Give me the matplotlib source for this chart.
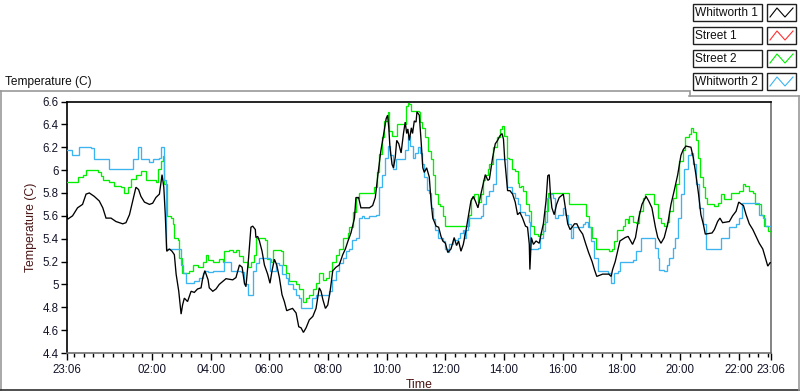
import matplotlib
matplotlib.use("Agg")
import matplotlib.pyplot as plt
from matplotlib.lines import Line2D
from matplotlib.patches import Rectangle

# ---------------- data (elapsed hours since 23:06, temperature in C) -------------
series_names = ["Whitworth 1", "Street 1", "Street 2", "Whitworth 2"]
series_colors = ["#000000", "#ff3030", "#00ee00", "#3cb4f0"]

whitworth1_hours = [0.00, 0.02, 0.19, 0.36, 0.53, 0.65, 0.76, 0.93, 1.10, 1.22, 1.33, 1.50, 1.67, 1.90, 2.01,
    2.13, 2.24, 2.35, 2.44, 2.52, 2.64, 2.81, 2.92, 3.03, 3.15, 3.24, 3.30, 3.35, 3.40, 3.49, 3.58, 3.66,
    3.72, 3.81, 3.89, 3.94, 4.00, 4.11, 4.23, 4.34, 4.45, 4.57, 4.63, 4.70, 4.81, 4.85, 4.97, 5.08, 5.19,
    5.42, 5.65, 5.76, 5.88, 5.97, 6.05, 6.10, 6.19, 6.27, 6.33, 6.42, 6.44, 6.50, 6.56, 6.65, 6.73, 6.84,
    6.92, 6.99, 7.07, 7.15, 7.24, 7.33, 7.41, 7.49, 7.58, 7.69, 7.81, 7.90, 7.98, 8.06, 8.15, 8.26, 8.38,
    8.49, 8.60, 8.66, 8.72, 8.81, 8.89, 8.97, 9.06, 9.17, 9.28, 9.40, 9.49, 9.58, 9.68, 9.80, 9.85, 9.94,
    10.02, 10.31, 10.42, 10.51, 10.59, 10.70, 10.78, 10.88, 10.93, 10.97, 11.01, 11.08, 11.13, 11.19,
    11.24, 11.31, 11.39, 11.47, 11.53, 11.58, 11.62, 11.67, 11.74, 11.78, 11.84, 11.90, 11.93, 12.01,
    12.07, 12.13, 12.18, 12.26, 12.35, 12.41, 12.47, 12.52, 12.58, 12.67, 12.75, 12.81, 12.90, 12.98,
    13.09, 13.20, 13.28, 13.35, 13.43, 13.51, 13.60, 13.69, 13.77, 13.85, 13.92, 14.01, 14.11, 14.19,
    14.26, 14.35, 14.40, 14.51, 14.60, 14.68, 14.76, 14.83, 14.88, 14.92, 14.97, 15.02, 15.10, 15.19,
    15.28, 15.36, 15.44, 15.53, 15.63, 15.70, 15.76, 15.78, 15.83, 15.90, 15.99, 16.10, 16.16, 16.24,
    16.33, 16.39, 16.44, 16.48, 16.53, 16.61, 16.69, 16.78, 16.92, 16.99, 17.07, 17.15, 17.22, 17.30,
    17.38, 17.47, 17.58, 17.69, 17.78, 17.90, 17.98, 18.06, 18.26, 18.47, 18.55, 18.60, 18.69, 18.77,
    18.85, 19.03, 19.13, 19.28, 19.38, 19.49, 19.60, 19.74, 19.83, 19.94, 20.06, 20.14, 20.25, 20.36,
    20.48, 20.59, 20.70, 20.82, 20.93, 21.01, 21.10, 21.27, 21.35, 21.44, 21.53, 21.61, 21.69, 21.76,
    21.99, 22.07, 22.18, 22.26, 22.35, 22.58, 22.69, 22.81, 22.90, 23.06, 23.15, 23.26, 23.38, 23.49,
    23.60, 23.72, 23.81, 23.89, 23.97, 24.00]
whitworth1_temp = [5.61, 5.57, 5.60, 5.67, 5.70, 5.79, 5.80, 5.77, 5.73, 5.67, 5.58, 5.58, 5.55, 5.53, 5.54,
    5.61, 5.73, 5.85, 5.83, 5.77, 5.72, 5.70, 5.71, 5.76, 5.79, 5.96, 5.85, 5.61, 5.29, 5.31, 5.29, 5.26,
    5.09, 4.94, 4.74, 4.82, 4.88, 4.85, 4.94, 4.93, 4.96, 4.97, 5.06, 5.12, 5.04, 4.97, 4.94, 4.96, 5.00,
    5.05, 5.04, 5.06, 5.17, 5.15, 5.01, 4.98, 5.23, 5.50, 5.51, 5.48, 5.41, 5.42, 5.38, 5.29, 5.17, 5.09,
    5.01, 5.12, 5.22, 5.17, 5.06, 4.91, 4.85, 4.77, 4.78, 4.79, 4.75, 4.63, 4.62, 4.58, 4.62, 4.69, 4.72,
    4.79, 4.97, 4.94, 4.87, 4.79, 4.82, 4.94, 5.12, 5.15, 5.17, 5.26, 5.31, 5.38, 5.45, 5.58, 5.76, 5.76,
    5.67, 5.67, 5.69, 5.76, 5.94, 6.17, 6.29, 6.45, 6.48, 6.37, 6.20, 6.05, 6.02, 6.11,
    6.26, 6.23, 6.15, 6.32, 6.42, 6.32, 6.36, 6.26, 6.37, 6.32, 6.43, 6.42, 6.51, 6.48,
    6.26, 6.02, 5.98, 6.02, 5.94, 5.73, 5.58, 5.55, 5.51, 5.50, 5.42, 5.38, 5.36, 5.28,
    5.31, 5.41, 5.34, 5.38, 5.29, 5.35, 5.47, 5.61, 5.73, 5.77, 5.73, 5.67, 5.79, 5.88,
    5.96, 5.91, 5.92, 6.11, 6.23, 6.26, 6.30, 6.32, 6.27, 6.10, 5.96, 5.82, 5.82, 5.79,
    5.72, 5.61, 5.63, 5.58, 5.51, 5.50, 5.35, 5.13, 5.41, 5.35, 5.38, 5.36, 5.44, 5.53,
    5.73, 5.95, 5.96, 5.79, 5.67, 5.61, 5.70, 5.76, 5.79, 5.67, 5.53, 5.48, 5.50, 5.53,
    5.53, 5.48, 5.44, 5.35, 5.28, 5.20, 5.13, 5.07, 5.09, 5.09, 5.07, 5.13, 5.20, 5.29,
    5.38, 5.41, 5.42, 5.35, 5.41, 5.58, 5.70, 5.77, 5.73, 5.67, 5.50, 5.41, 5.36, 5.41,
    5.53, 5.70, 5.82, 5.96, 6.13, 6.18, 6.21, 6.20, 6.11, 5.96, 5.79, 5.61, 5.53, 5.44,
    5.45, 5.48, 5.55, 5.58, 5.54, 5.55, 5.60, 5.64, 5.72, 5.69, 5.61, 5.53, 5.48, 5.42,
    5.36, 5.31, 5.23, 5.16, 5.19, 5.19]

street1_hours = []
street1_temp = []

street2_hours = [0.00, 0.25, 0.36, 0.53, 0.65, 0.88, 1.05, 1.16, 1.22, 1.44, 1.61, 1.84, 1.95, 2.07, 2.18,
    2.35, 2.52, 2.69, 3.03, 3.09, 3.20, 3.26, 3.32, 3.41, 3.55, 3.60, 3.66, 3.77, 3.83, 3.92, 4.17, 4.28,
    4.45, 4.63, 4.74, 4.80, 4.97, 5.19, 5.31, 5.36, 5.53, 5.65, 5.76, 5.88, 5.99, 6.16, 6.27, 6.39, 6.44,
    6.76, 6.81, 6.95, 7.03, 7.30, 7.38, 7.47, 7.58, 7.81, 7.92, 8.03, 8.15, 8.26, 8.38, 8.49, 8.60, 8.72,
    8.83, 8.94, 9.03, 9.17, 9.28, 9.40, 9.58, 9.63, 9.74, 9.85, 9.94, 10.42, 10.48, 10.56, 10.65, 10.74,
    10.82, 10.94, 10.99, 11.08, 11.19, 11.24, 11.47, 11.56, 11.61, 11.67, 11.74, 11.92, 11.99, 12.03,
    12.10, 12.19, 12.30, 12.41, 12.47, 12.56, 12.64, 12.72, 12.81, 12.90, 13.60, 13.69, 13.77, 13.89,
    14.00, 14.11, 14.19, 14.26, 14.35, 14.40, 14.53, 14.65, 14.76, 14.83, 14.91, 14.99, 15.08, 15.17,
    15.28, 15.36, 15.42, 15.49, 15.56, 15.65, 15.74, 15.82, 15.93, 16.05, 16.14, 16.22, 16.31, 16.39,
    17.03, 17.10, 17.64, 17.69, 17.78, 17.90, 18.03, 18.38, 18.47, 18.58, 18.66, 18.74, 18.94, 19.03,
    19.13, 19.17, 19.28, 19.40, 19.51, 19.63, 19.72, 19.91, 20.02, 20.14, 20.25, 20.36, 20.44, 20.53,
    20.65, 20.76, 20.88, 20.99, 21.08, 21.19, 21.27, 21.35, 21.44, 21.50, 21.58, 21.67, 21.76, 21.81,
    22.07, 22.18, 22.30, 22.41, 22.52, 22.64, 22.92, 23.03, 23.13, 23.24, 23.38, 23.47, 23.58, 23.66,
    23.77, 23.89, 24.00]
street2_temp = [5.90, 5.90, 5.94, 5.96, 6.00, 6.00, 5.98, 5.95, 5.91, 5.90, 5.86, 5.85, 5.80, 5.85, 5.92,
    5.96, 5.99, 5.91, 5.90, 6.01, 6.08, 6.12, 5.88, 5.60, 5.58, 5.53, 5.41, 5.39, 5.23, 5.10, 5.12, 5.17,
    5.15, 5.20, 5.26, 5.21, 5.20, 5.22, 5.20, 5.29, 5.30, 5.28, 5.30, 5.25, 5.20, 5.15, 5.20, 5.26, 5.41,
    5.39, 5.22, 5.20, 5.30, 5.29, 5.17, 5.10, 5.03, 5.00, 4.96, 4.85, 4.88, 4.91, 4.96, 5.01, 5.10, 5.04,
    5.06, 5.12, 5.20, 5.26, 5.31, 5.41, 5.45, 5.50, 5.63, 5.76, 5.80, 5.80, 5.85, 5.98, 6.14, 6.29,
    6.43, 6.51, 6.34, 6.30, 6.30, 6.40, 6.40, 6.56, 6.59, 6.58, 6.52, 6.52, 6.51, 6.42,
    6.37, 6.29, 6.17, 6.10, 5.96, 5.79, 5.70, 5.69, 5.60, 5.51, 5.51, 5.61, 5.76, 5.79,
    5.72, 5.79, 5.91, 5.96, 6.01, 6.05, 6.20, 6.29, 6.36, 6.39, 6.30, 6.11, 6.10, 6.01,
    5.99, 5.89, 5.85, 5.86, 5.82, 5.70, 5.64, 5.51, 5.44, 5.42, 5.44, 5.53, 5.64, 5.80,
    5.80, 5.70, 5.70, 5.60, 5.50, 5.41, 5.31, 5.31, 5.29, 5.31, 5.38, 5.48, 5.51, 5.57,
    5.54, 5.60, 5.55, 5.54, 5.64, 5.76, 5.79, 5.79, 5.70, 5.58, 5.54, 5.51, 5.55, 5.64,
    5.76, 5.88, 6.08, 6.18, 6.29, 6.32, 6.37, 6.33, 6.26, 6.11, 5.94, 5.85, 5.76, 5.70,
    5.69, 5.71, 5.79, 5.75, 5.75, 5.80, 5.82, 5.88, 5.86, 5.82, 5.80, 5.70, 5.70, 5.61,
    5.51, 5.47, 5.42]

whitworth2_hours = [0.00, 0.17, 0.42, 0.82, 0.93, 1.39, 1.44, 2.18, 2.24, 2.41, 2.52, 2.81, 2.92, 3.13,
    3.20, 3.26, 3.32, 3.38, 3.77, 3.89, 3.94, 4.06, 4.28, 4.34, 4.51, 4.63, 4.68, 4.81, 4.97, 5.25, 5.36,
    5.48, 5.59, 5.93, 6.05, 6.16, 6.27, 6.33, 6.44, 6.56, 6.84, 6.92, 7.01, 7.13, 7.24, 7.33, 7.47, 7.52,
    7.69, 7.81, 7.92, 7.98, 8.26, 8.35, 8.49, 8.77, 8.94, 9.03, 9.17, 9.28, 9.40, 9.51, 9.63, 9.72, 9.85,
    9.94, 10.06, 10.14, 10.31, 10.53, 10.63, 10.74, 10.85, 10.93, 11.01, 11.10, 11.22, 11.44, 11.53,
    11.61, 11.69, 11.78, 11.88, 11.95, 12.03, 12.10, 12.18, 12.26, 12.33, 12.41, 12.49, 12.56, 12.64,
    12.81, 12.90, 12.98, 13.03, 13.15, 13.32, 13.40, 13.49, 13.55, 13.60, 13.66, 14.11, 14.19, 14.28,
    14.40, 14.51, 14.63, 14.91, 14.99, 15.17, 15.28, 15.36, 15.44, 15.63, 15.74, 15.78, 16.05, 16.13,
    16.22, 16.31, 16.38, 16.44, 16.56, 16.65, 16.73, 16.90, 16.99, 17.07, 17.18, 17.26, 17.58, 17.67,
    17.75, 17.86, 17.98, 18.09, 18.43, 18.55, 18.66, 18.77, 18.85, 19.28, 19.40, 19.57, 19.97, 20.06,
    20.14, 20.19, 20.36, 20.44, 20.53, 20.65, 20.74, 20.82, 20.93, 21.05, 21.16, 21.27, 21.35, 21.44,
    21.56, 21.69, 21.78, 22.24, 22.30, 22.47, 22.58, 22.81, 22.92, 23.01, 23.49, 23.58, 23.72, 23.81,
    24.00]
whitworth2_temp = [6.18, 6.13, 6.20, 6.19, 6.10, 6.10, 6.01, 6.01, 6.10, 6.20, 6.10, 6.07, 6.10, 6.11,
    6.20, 6.20, 5.91, 5.31, 5.31, 5.17, 5.10, 5.01, 5.01, 5.03, 5.06, 5.10, 5.12, 5.11, 5.12, 5.12, 5.20,
    5.20, 5.12, 5.11, 5.00, 4.91, 4.91, 5.12, 5.19, 5.23, 5.23, 5.12, 5.12, 5.19, 5.17, 5.09, 5.06, 5.00,
    4.96, 4.91, 4.88, 4.79, 4.79, 4.88, 4.91, 4.91, 4.94, 5.04, 5.12, 5.19, 5.23, 5.29, 5.31, 5.39, 5.41,
    5.58, 5.60, 5.58, 5.60, 5.61, 5.85, 5.96, 6.11, 6.21, 6.13, 6.01, 6.10, 6.10, 6.18,
    6.30, 6.21, 6.11, 6.15, 6.20, 6.15, 6.05, 5.94, 5.83, 5.80, 5.67, 5.57, 5.48, 5.41,
    5.38, 5.31, 5.28, 5.35, 5.39, 5.41, 5.45, 5.48, 5.41, 5.48, 5.58, 5.60, 5.70, 5.77,
    5.82, 5.88, 6.10, 6.10, 5.85, 5.80, 5.76, 5.70, 5.63, 5.61, 5.55, 5.31, 5.32, 5.41,
    5.47, 5.55, 5.76, 5.79, 5.76, 5.58, 5.61, 5.67, 5.61, 5.53, 5.41, 5.50, 5.53, 5.55,
    5.50, 5.38, 5.23, 5.12, 5.10, 5.01, 5.10, 5.12, 5.20, 5.21, 5.29, 5.41, 5.41, 5.32,
    5.23, 5.13, 5.12, 5.17, 5.23, 5.32, 5.41, 5.58, 5.79, 6.01, 6.13, 6.15, 6.05, 5.88,
    5.67, 5.53, 5.31, 5.31, 5.41, 5.41, 5.50, 5.53, 5.58, 5.71, 5.71, 5.61, 5.58, 5.51,
    5.51]

start_clock = "23:06"
y_ticks = [4.4, 4.6, 4.8, 5.0, 5.2, 5.4, 5.6, 5.8, 6.0, 6.2, 6.4, 6.6]
x_tick_clock = ["02:00", "04:00", "06:00", "08:00", "10:00", "12:00", "14:00",
                "16:00", "18:00", "20:00", "22:00"]
x_label = "Time"
y_label = "Temperature (C)"
caption = "Temperature (C)"

# ---------------- figure ----------------
W, H = 800, 392
fig = plt.figure(figsize=(W / 100, H / 100), dpi=100)
fig.patch.set_facecolor("white")
FONT = "Liberation Sans"


def fx(px):
    return px / W


def fy(py):
    return 1 - py / H


ax = fig.add_axes([fx(67), fy(353), fx(771) - fx(67), fy(101.5) - fy(353)])

all_series = [
    (whitworth1_hours, whitworth1_temp),
    (street1_hours, street1_temp),
    (street2_hours, street2_temp),
    (whitworth2_hours, whitworth2_temp),
]
zorders = [5, 3, 3, 4]
styles = ["default", "steps-post", "steps-post", "steps-post"]
for (hrs, tmp), col, z, ds in zip(all_series, series_colors, zorders, styles):
    ax.plot(hrs, tmp, color=col, lw=0.95, zorder=z, drawstyle=ds, solid_joinstyle="miter")

ax.set_xlim(0, 24)
ax.set_ylim(4.4, 6.6)

# y ticks
ax.set_yticks(y_ticks)
ax.set_yticklabels([("%d" % v) if abs(v - round(v)) < 1e-9 else ("%.1f" % v) for v in y_ticks],
                   fontfamily=FONT, fontsize=8.3, color="#14142a")

# x ticks
sh, sm = [int(s) for s in start_clock.split(":")]
start_h = sh + sm / 60.0


def elapsed(clock):
    h, m = [int(s) for s in clock.split(":")]
    return (h + m / 60.0 - start_h) % 24


major_pos = [0.0] + [elapsed(c) for c in x_tick_clock] + [24.0]
major_lab = [start_clock] + x_tick_clock + [start_clock]
ax.set_xticks(major_pos)
ax.set_xticklabels(major_lab, fontfamily=FONT, fontsize=8.3, color="#14142a")
first_minor = (20 - sm % 20) / 60.0
minor_pos = []
t = first_minor
while t < 24:
    if all(abs(t - m) > 0.05 for m in major_pos):
        minor_pos.append(t)
    t += 1 / 3.0
ax.set_xticks(minor_pos, minor=True)

ax.tick_params(axis="y", direction="out", length=4, width=1, color="#000000", pad=2)
ax.tick_params(axis="x", which="major", direction="out", length=5, width=1, color="#000000", pad=3)
ax.tick_params(axis="x", which="minor", direction="out", length=3, width=1, color="#000000")

for side in ["top", "left"]:
    ax.spines[side].set_color("#000000")
    ax.spines[side].set_linewidth(1.2)
for side in ["bottom", "right"]:
    ax.spines[side].set_color("#6e6e6e")
    ax.spines[side].set_linewidth(1.2)

ax.set_xlabel(x_label, fontfamily=FONT, fontsize=8.8, color="#4a1414", labelpad=2)
ax.set_ylabel(y_label, fontfamily=FONT, fontsize=8.8, color="#4a1414", labelpad=4)

# caption above the graph frame
fig.text(fx(5), fy(82), caption, fontfamily=FONT, fontsize=8.6, color="#101010",
         ha="left", va="center")

# graph frame outline
def seg(x0, y0, x1, y1, color, lw=1.0):
    fig.add_artist(Line2D([fx(x0), fx(x1)], [fy(y0), fy(y1)], color=color, lw=lw,
                          transform=fig.transFigure))

seg(0, 91, 689, 91, "#9a9a9a", 1.2)
seg(1, 91, 1, 390, "#9a9a9a", 1.2)
seg(0, 390, 800, 390, "#303030", 1.2)
seg(799, 96, 799, 390, "#9a9a9a", 1.2)
seg(689.5, 91, 689.5, 96, "#9a9a9a", 1.2)
seg(689, 96, 800, 96, "#9a9a9a", 1.2)

# legend (plot legend at top right)
for i, (name, col) in enumerate(zip(series_names, series_colors)):
    top = 4 + i * 23
    bot = top + 17
    fig.add_artist(Rectangle((fx(693), fy(bot)), fx(762) - fx(693), fy(top) - fy(bot),
                             transform=fig.transFigure, facecolor="white",
                             edgecolor="#202020", lw=1.0))
    fig.text(fx(695), fy((top + bot) / 2 + 0.5), name, fontfamily=FONT, fontsize=8.6,
             color="#101010", ha="left", va="center")
    fig.add_artist(Rectangle((fx(767), fy(bot)), fx(796) - fx(767), fy(top) - fy(bot),
                             transform=fig.transFigure, facecolor="white",
                             edgecolor="#202020", lw=1.0))
    xs = [770, 777, 785, 793]
    ys = [bot - 4, top + 4, bot - 4, top + 4]
    fig.add_artist(Line2D([fx(v) for v in xs], [fy(v) for v in ys], color=col, lw=0.8,
                          transform=fig.transFigure))

fig.savefig("out.png", dpi=100, facecolor="white")
